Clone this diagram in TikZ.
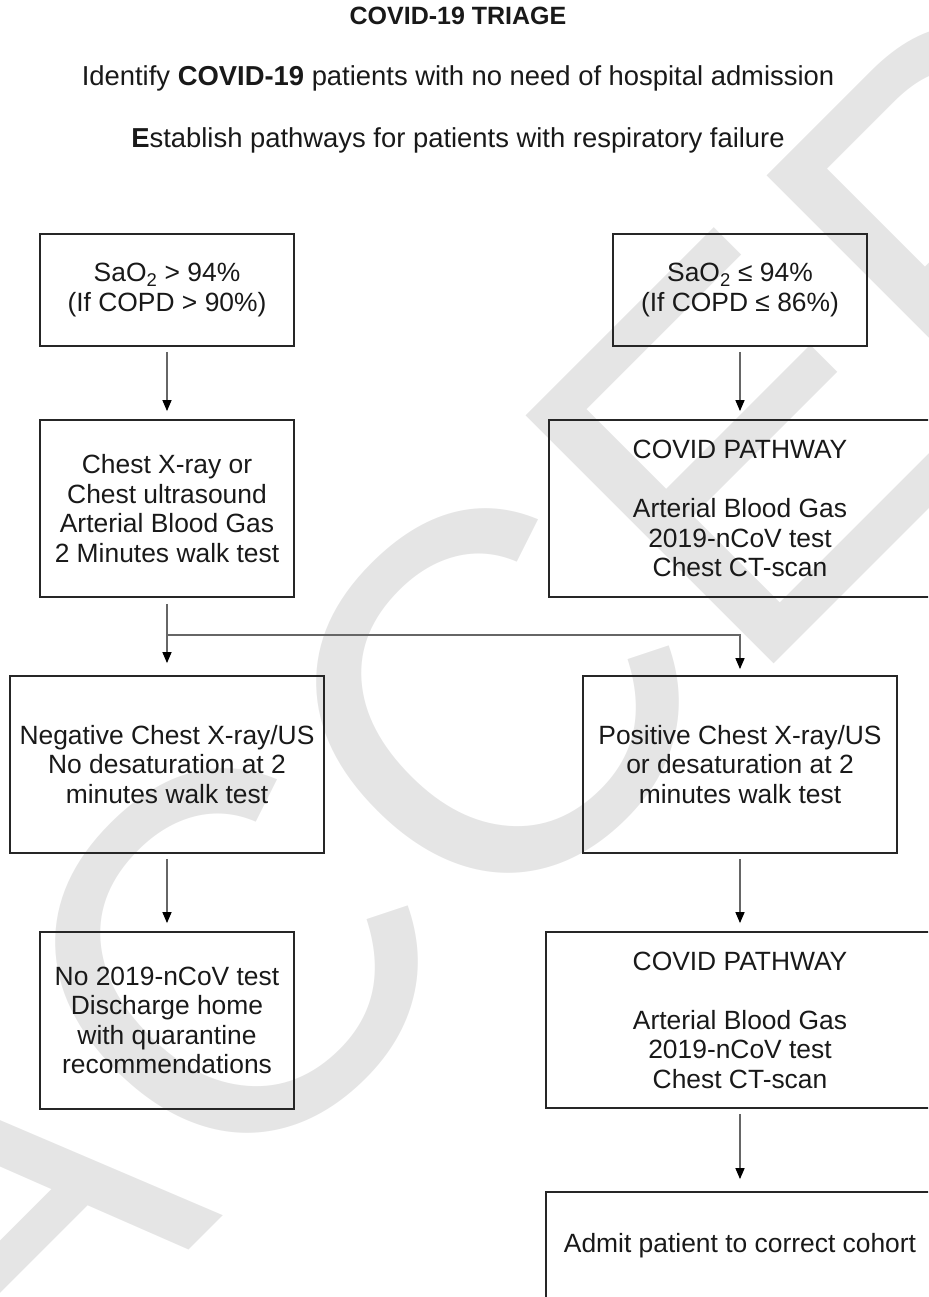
\documentclass[tikz,border=0pt]{standalone}
\usepackage{fontspec}
\setmainfont{Liberation Sans}
\usetikzlibrary{arrows.meta}
\definecolor{wm}{gray}{0.9}
\newcommand\boxfont{\fontsize{26.4pt}{29.5pt}\selectfont}
\newcommand\headfont{\fontsize{27.4pt}{30pt}\selectfont}
\tikzset{
  box/.style={draw=black!85, line width=1.8pt, align=center, font=\boxfont,
    text=black!90, inner sep=0pt},
  conn/.style={draw=black!60, line width=1.4pt},
  arr/.style={conn, -{Triangle[length=11pt,width=9pt,color=black]},
    shorten <=5pt, shorten >=8pt},
  head/.style={anchor=base, text=black!90}
}
\begin{document}
\begin{tikzpicture}[x=1pt, y=-1pt]
\useasboundingbox (0,0) rectangle (928,1297);
\clip (0,0) rectangle (928,1297);
% watermark
\node[rotate=45, text=wm, font=\fontsize{510pt}{510pt}\selectfont, inner sep=0pt]
  (wmark) at (841,349) {ACCEPTED};
% headings
\node[head, font=\fontsize{25pt}{28pt}\selectfont\bfseries] (t1) at (458,25) {COVID-19 TRIAGE};
\node[head, font=\headfont] (t2) at (458,86) {Identify \textbf{COVID-19} patients with no need of hospital admission};
\node[head, font=\headfont] (t3) at (458,148) {\textbf{E}stablish pathways for patients with respiratory failure};
% boxes
\node[box, minimum width=254pt, minimum height=112pt] (a) at (167,290)
  {SaO\textsubscript{2} > 94\%\\(If COPD > 90\%)};
\node[box, minimum width=254pt, minimum height=112pt] (r1) at (740,290)
  {SaO\textsubscript{2} ≤ 94\%\\(If COPD ≤ 86\%)};
\node[box, minimum width=254pt, minimum height=177pt] (b) at (167,508.5)
  {Chest X-ray or\\Chest ultrasound\\Arterial Blood Gas\\2 Minutes walk test};
\node[box, minimum width=382pt, minimum height=177pt] (r2) at (740,508.5)
  {COVID PATHWAY\\[29.5pt]Arterial Blood Gas\\2019-nCoV test\\Chest CT-scan};
\node[box, minimum width=314pt, minimum height=177pt] (c) at (167,764.5)
  {Negative Chest X-ray/US\\No desaturation at 2\\minutes walk test};
\node[box, minimum width=314pt, minimum height=177pt] (d) at (740,764.5)
  {Positive Chest X-ray/US\\or desaturation at 2\\minutes walk test};
\node[box, minimum width=254pt, minimum height=177pt] (e) at (167,1020.5)
  {No 2019-nCoV test\\Discharge home\\with quarantine\\recommendations};
\node[box, minimum width=388pt, minimum height=176pt] (f) at (740,1020)
  {COVID PATHWAY\\[29.5pt]Arterial Blood Gas\\2019-nCoV test\\Chest CT-scan};
\node[box, minimum width=388pt, minimum height=108pt] (g) at (740,1246)
  {Admit patient to correct cohort};
% connectors
\coordinate (j) at (167,635);
\draw[arr] (a) -- (b);
\draw[arr] (r1) -- (r2);
\draw[conn, shorten <=6pt] (b) -- (j);
\draw[arr, shorten <=0pt, shorten >=12pt] (j) -- (c);
\draw[arr, shorten <=0pt, shorten >=6pt] (j) -| (d);
\draw[arr] (c) -- (e);
\draw[arr] (d) -- (f);
\draw[arr, shorten >=12pt] (f) -- (g);
\end{tikzpicture}
\end{document}
